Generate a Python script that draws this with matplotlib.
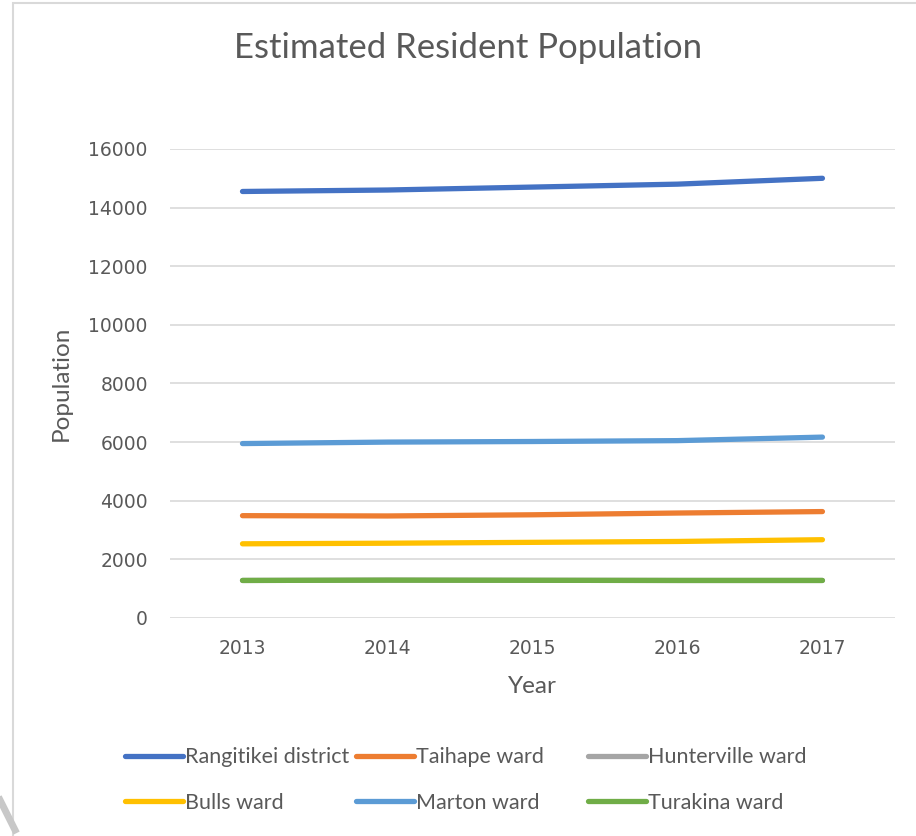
import matplotlib
matplotlib.use("Agg")
import matplotlib.pyplot as plt
from matplotlib.patches import Rectangle
from matplotlib.lines import Line2D

years = ["2013", "2014", "2015", "2016", "2017"]
rangitikei = [14550, 14600, 14700, 14800, 15000]
taihape = [3490, 3480, 3520, 3580, 3630]
hunterville = [1280, 1290, 1285, 1280, 1280]
bulls = [2530, 2550, 2580, 2610, 2670]
marton = [5950, 6000, 6020, 6050, 6170]
turakina = [1280, 1290, 1285, 1280, 1280]

series = [
    ("Rangitikei district", rangitikei, "#4472C4"),
    ("Taihape ward", taihape, "#ED7D31"),
    ("Hunterville ward", hunterville, "#A5A5A5"),
    ("Bulls ward", bulls, "#FFC000"),
    ("Marton ward", marton, "#5B9BD5"),
    ("Turakina ward", turakina, "#70AD47"),
]

plt.rcParams['font.family'] = ['Lato', 'DejaVu Sans']
txt = "#595959"

fig = plt.figure(figsize=(9.16, 8.36), dpi=100)
ax = fig.add_axes([0.1856, 0.2608, 0.7914, 0.561])

x = list(range(len(years)))
handles = {}
for name, vals, col in series:
    h, = ax.plot(x, vals, color=col, lw=3.8, solid_capstyle='round', label=name)
    handles[name] = h

ax.set_xlim(-0.5, len(years) - 0.5)
ax.set_ylim(0, 16000)
ax.set_yticks(range(0, 16001, 2000))
ax.set_xticks(x)
ax.set_xticklabels(years)
ax.grid(axis='y', color='#D9D9D9', lw=1.2)
ax.set_axisbelow(True)
for s in ax.spines.values():
    s.set_visible(False)
ax.tick_params(length=0, colors=txt)
ax.tick_params(axis='y', pad=16)
ax.tick_params(axis='x', pad=15)
for lab in ax.get_yticklabels() + ax.get_xticklabels():
    lab.set_family(['DejaVu Sans'])
    lab.set_fontsize(13.5)

ax.set_ylabel("Population", color=txt, fontsize=17.5, labelpad=12)
ax.set_xlabel("Year", color=txt, fontsize=17.5, labelpad=13)

fig.text(0.511, 1 - 48 / 836, "Estimated Resident Population", ha='center',
         va='center', fontsize=25, color=txt)

cols = [["Rangitikei district", "Bulls ward"],
        ["Taihape ward", "Marton ward"],
        ["Hunterville ward", "Turakina ward"]]
xs = [125 / 916, 356 / 916, 588 / 916]
for names, xa in zip(cols, xs):
    leg = fig.legend([handles[n] for n in names], names, loc='center left',
                     bbox_to_anchor=(xa, 1 - 780 / 836), frameon=False,
                     fontsize=15.5, handlelength=2.7, handletextpad=0.1,
                     labelspacing=1.2, borderaxespad=0, borderpad=0)
    for t in leg.get_texts():
        t.set_color(txt)

fig.patches.append(Rectangle((13 / 916, -0.01), 1.0, 1 - 3 / 836 + 0.01,
                             transform=fig.transFigure, fill=False,
                             edgecolor='#D9D9D9', lw=1.5))
fig.lines.append(Line2D([0, 15 / 916], [1 - 800 / 836, 1 - 830 / 836],
                        transform=fig.transFigure, color='#C8C8C8', lw=5))

fig.savefig("out.png", dpi=100)
